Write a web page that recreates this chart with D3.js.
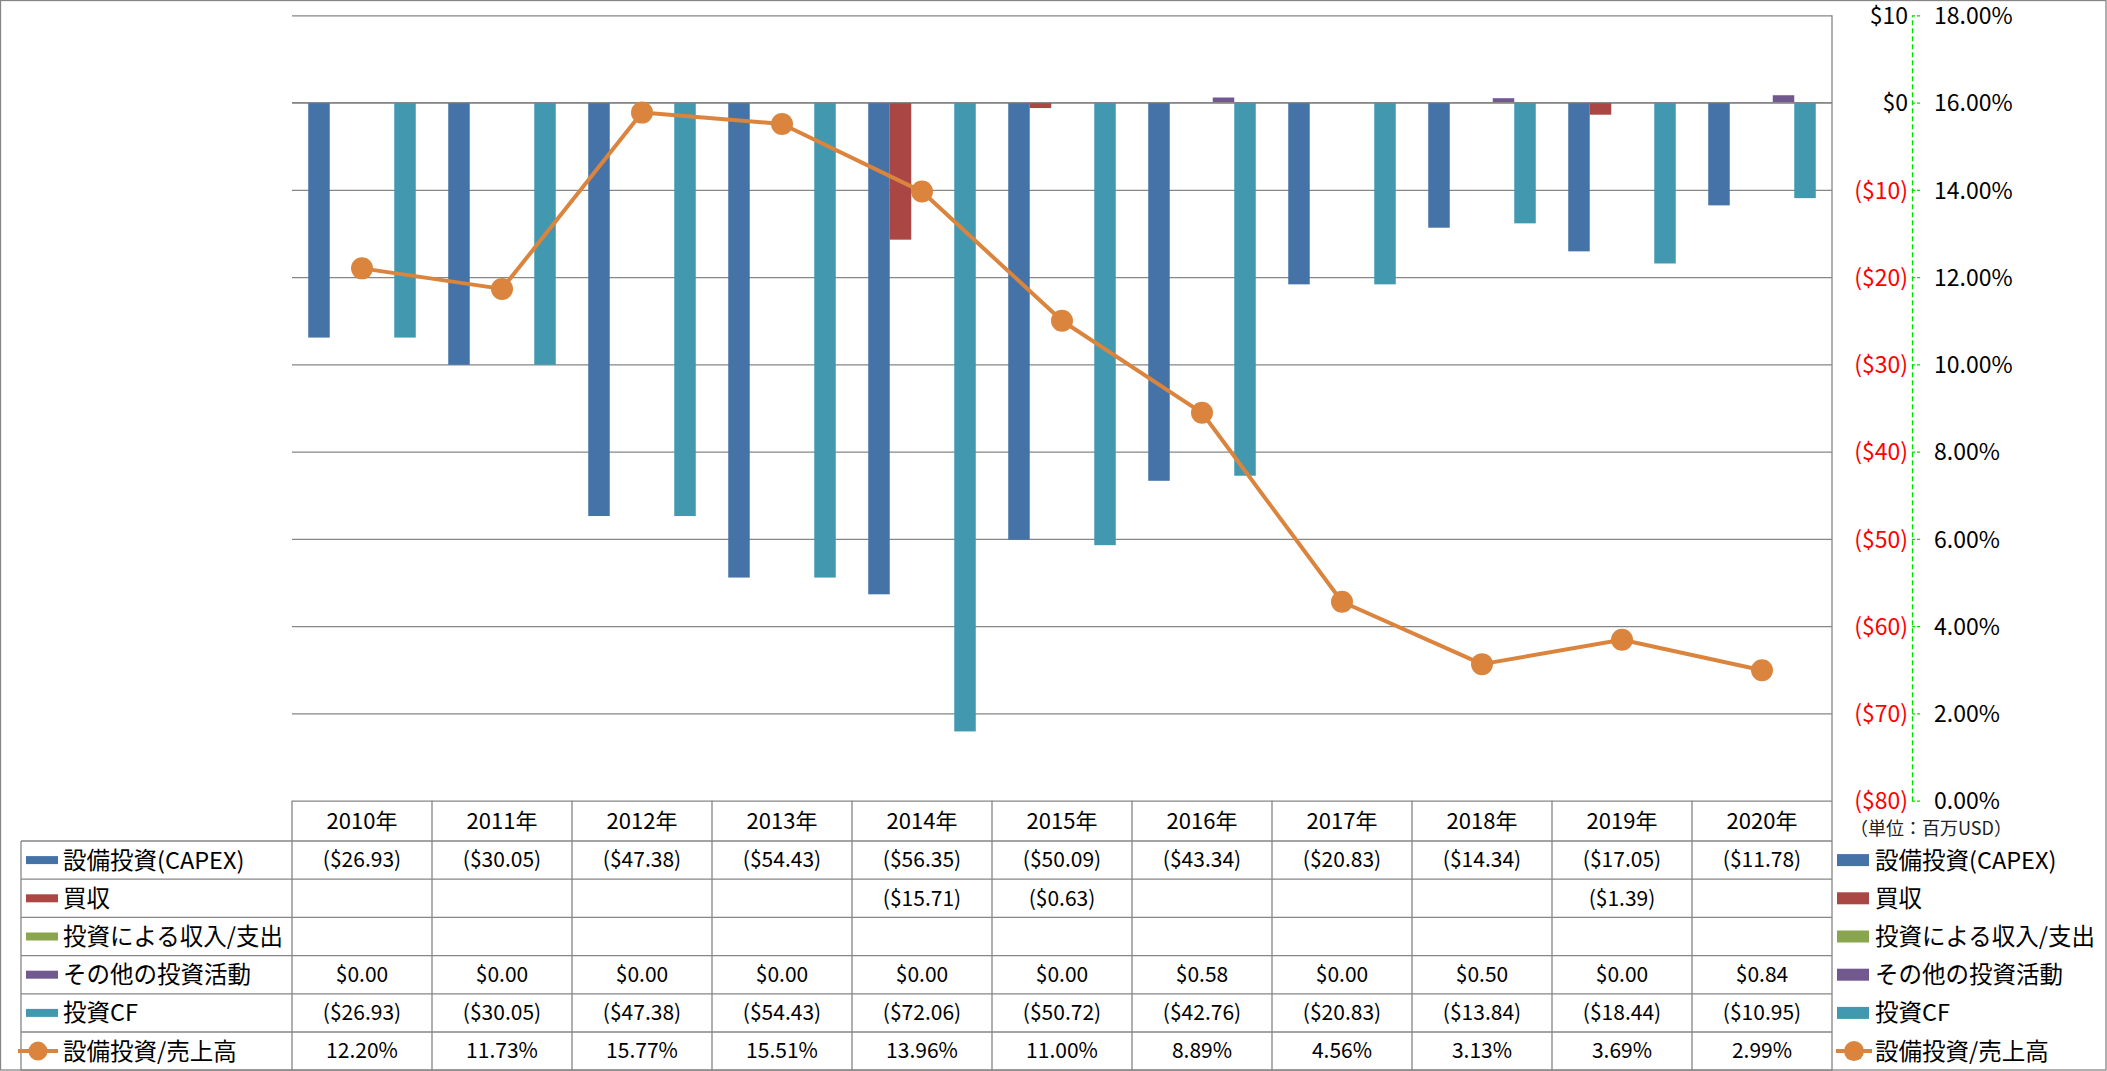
<!DOCTYPE html>
<html><head><meta charset="utf-8">
<script src="https://cdn.jsdelivr.net/npm/d3@7"></script>
<style>
html,body{margin:0;padding:0;background:#fff;}
svg{display:block;font-family:"Noto Sans CJK JP","Noto Sans",sans-serif;}
</style></head>
<body><svg id="chart" width="2107" height="1071"></svg>
<script>
// ---- data ----
const years = ["2010年","2011年","2012年","2013年","2014年","2015年","2016年","2017年","2018年","2019年","2020年"];
const seriesNames = ["設備投資(CAPEX)","買収","投資による収入/支出","その他の投資活動","投資CF"];
const lineName = "設備投資/売上高";
const capex = [-26.93,-30.05,-47.38,-54.43,-56.35,-50.09,-43.34,-20.83,-14.34,-17.05,-11.78];
const acquisition = [null,null,null,null,-15.71,-0.63,null,null,null,-1.39,null];
const investIncome = [null,null,null,null,null,null,null,null,null,null,null];
const otherInvest = [0,0,0,0,0,0,0.58,0,0.50,0,0.84];
const investCF = [-26.93,-30.05,-47.38,-54.43,-72.06,-50.72,-42.76,-20.83,-13.84,-18.44,-10.95];
const capexRatio = [12.20,11.73,15.77,15.51,13.96,11.00,8.89,4.56,3.13,3.69,2.99];
const dollarTicks = [10,0,-10,-20,-30,-40,-50,-60,-70,-80];
const pctTicks = [0,2,4,6,8,10,12,14,16,18];
const unitLabel = "（単位：百万USD）";

const seriesData = [capex, acquisition, investIncome, otherInvest, investCF];
const colors = ["#4572A7","#AA4643","#89A54E","#71588F","#4198AF"];
const lineColor = "#DB843D";
const gridColor = "#868686";

// ---- layout ----
const svg = d3.select("#chart");
const W = 2107, H = 1071;
const plotL = 292, plotR = 1832, plotT = 15.3, plotB = 800.7;
const rowTop = 841, rowH = 38.2;

const x0 = d3.scaleBand().domain(years).range([plotL, plotR]).padding(0);
const x1 = d3.scaleBand().domain(d3.range(seriesNames.length)).range([0, x0.bandwidth()]).paddingInner(0).paddingOuter(0.755);
const y = d3.scaleLinear().domain([-80, 10]).range([plotB, plotT]);
const yPct = d3.scaleLinear().domain([0, 18]).range([plotB, plotT]);

const fmtD = v => v == null ? "" : (v < 0 ? "($" + Math.abs(v).toFixed(2) + ")" : "$" + v.toFixed(2));
const fmtTick = v => v < 0 ? "($" + Math.abs(v) + ")" : "$" + v;

// outer border
svg.append("rect").attr("x",0.5).attr("y",0.5).attr("width",W-1.5).attr("height",H-1.5)
  .attr("fill","#fff").attr("stroke",gridColor).attr("stroke-width",1.3);

// gridlines
const grid = svg.append("g").attr("transform",`translate(${plotL},0)`)
  .call(d3.axisLeft(y).tickValues(dollarTicks).tickSize(-(plotR-plotL)).tickFormat(""));
grid.select(".domain").remove();
grid.selectAll("line").attr("stroke",gridColor).attr("stroke-width",1.3);

// bars
seriesData.forEach((vals, si) => {
  svg.append("g").selectAll("rect")
    .data(vals.map((v,i)=>({v, yr: years[i]})).filter(d => d.v != null && d.v !== 0))
    .join("rect")
    .attr("x", d => x0(d.yr) + x1(si))
    .attr("width", x1.bandwidth())
    .attr("y", d => Math.min(y(d.v), y(0)))
    .attr("height", d => Math.abs(y(d.v) - y(0)))
    .attr("fill", colors[si]);
});

// zero line redraw on top
svg.append("line").attr("x1",plotL).attr("x2",plotR).attr("y1",y(0)).attr("y2",y(0))
  .attr("stroke",gridColor).attr("stroke-width",1.3);

// line series
const line = d3.line().x((d,i)=>x0(years[i]) + x0.bandwidth()/2).y(d=>yPct(d));
svg.append("path").datum(capexRatio).attr("d",line).attr("fill","none")
  .attr("stroke",lineColor).attr("stroke-width",4).attr("stroke-linejoin","round");
svg.append("g").selectAll("circle").data(capexRatio).join("circle")
  .attr("cx",(d,i)=>x0(years[i]) + x0.bandwidth()/2).attr("cy",d=>yPct(d)).attr("r",11)
  .attr("fill",lineColor);

// right vertical border of plot/table
svg.append("line").attr("x1",plotR).attr("x2",plotR).attr("y1",plotT).attr("y2",1070.5)
  .attr("stroke",gridColor).attr("stroke-width",1.3);

// right axes
const axisX = 1912;
const pctAxis = svg.append("g").attr("transform",`translate(${axisX},0)`)
  .call(d3.axisRight(yPct).tickValues(pctTicks).tickSize(8).tickPadding(14).tickSizeOuter(0)
    .tickFormat(d => d.toFixed(2) + "%"));
pctAxis.select(".domain").attr("stroke","#00E000").attr("stroke-dasharray","5,3").attr("stroke-width",1.3);
pctAxis.selectAll("line").attr("stroke","#00E000").attr("stroke-dasharray","3,2").attr("stroke-width",1.3);
pctAxis.selectAll("text").attr("font-size",23).attr("fill","#000").attr("font-family","Noto Sans CJK JP")
  .attr("dy","0.36em");

const dAxis = svg.append("g").attr("transform",`translate(${axisX-3},0)`)
  .call(d3.axisLeft(y).tickValues(dollarTicks).tickSize(0).tickPadding(1).tickFormat(fmtTick));
dAxis.select(".domain").remove();
dAxis.selectAll("text").attr("font-size",23).attr("font-family","Noto Sans CJK JP").attr("dy","0.36em")
  .attr("fill", d => d < 0 ? "#FF0000" : "#000");

svg.append("text").attr("x",1850).attr("y",829).attr("dy","0.35em").attr("font-size",18)
  .attr("fill","#222").text(unitLabel);

// ---- data table ----
const tbl = svg.append("g").attr("font-size",21).attr("fill","#000");
// horizontal lines
for (let r = 0; r <= 6; r++) {
  const yy = rowTop + r*rowH;
  tbl.append("line").attr("x1",21).attr("x2",plotR).attr("y1",yy).attr("y2",yy)
    .attr("stroke",gridColor).attr("stroke-width",1.3);
}
// vertical lines
years.forEach(yr => {
  tbl.append("line").attr("x1",x0(yr)).attr("x2",x0(yr)).attr("y1",plotB).attr("y2",rowTop+6*rowH)
    .attr("stroke",gridColor).attr("stroke-width",1.3);
});
tbl.append("line").attr("x1",21).attr("x2",21).attr("y1",rowTop).attr("y2",rowTop+6*rowH)
  .attr("stroke",gridColor).attr("stroke-width",1.3);

// header
tbl.selectAll("text.hdr").data(years).join("text").attr("class","hdr")
  .attr("x",d=>x0(d)+x0.bandwidth()/2).attr("y",(plotB+rowTop)/2).attr("dy","0.35em")
  .attr("font-size",22).attr("text-anchor","middle").text(d=>d);

const rows = seriesData.map((vals,i)=>({name:seriesNames[i], color:colors[i], cells: vals.map(fmtD), isLine:false}));
rows.push({name:lineName, color:lineColor, cells: capexRatio.map(v=>v.toFixed(2)+"%"), isLine:true});

rows.forEach((row, r) => {
  const cy = rowTop + r*rowH + rowH/2;
  // label
  if (row.isLine) {
    tbl.append("line").attr("x1",18).attr("x2",58).attr("y1",cy).attr("y2",cy).attr("stroke",row.color).attr("stroke-width",4);
    tbl.append("circle").attr("cx",38).attr("cy",cy).attr("r",9.5).attr("fill",row.color);
  } else {
    tbl.append("rect").attr("x",26).attr("y",cy-4).attr("width",32).attr("height",8).attr("fill",row.color);
  }
  tbl.append("text").attr("x",63).attr("y",cy).attr("dy","0.36em").attr("font-size",23.5).text(row.name);
  row.cells.forEach((c,i)=>{
    tbl.append("text").attr("x",x0(years[i])+x0.bandwidth()/2).attr("y",cy).attr("dy","0.35em")
      .attr("text-anchor","middle").text(c);
  });
  // right legend
  if (row.isLine) {
    tbl.append("line").attr("x1",1836).attr("x2",1872).attr("y1",cy).attr("y2",cy).attr("stroke",row.color).attr("stroke-width",4);
    tbl.append("circle").attr("cx",1854).attr("cy",cy).attr("r",10).attr("fill",row.color);
  } else {
    tbl.append("rect").attr("x",1837).attr("y",cy-6).attr("width",32).attr("height",12).attr("fill",row.color);
  }
  tbl.append("text").attr("x",1875).attr("y",cy).attr("dy","0.36em").attr("font-size",23.5).text(row.name);
});
</script>
</body></html>
